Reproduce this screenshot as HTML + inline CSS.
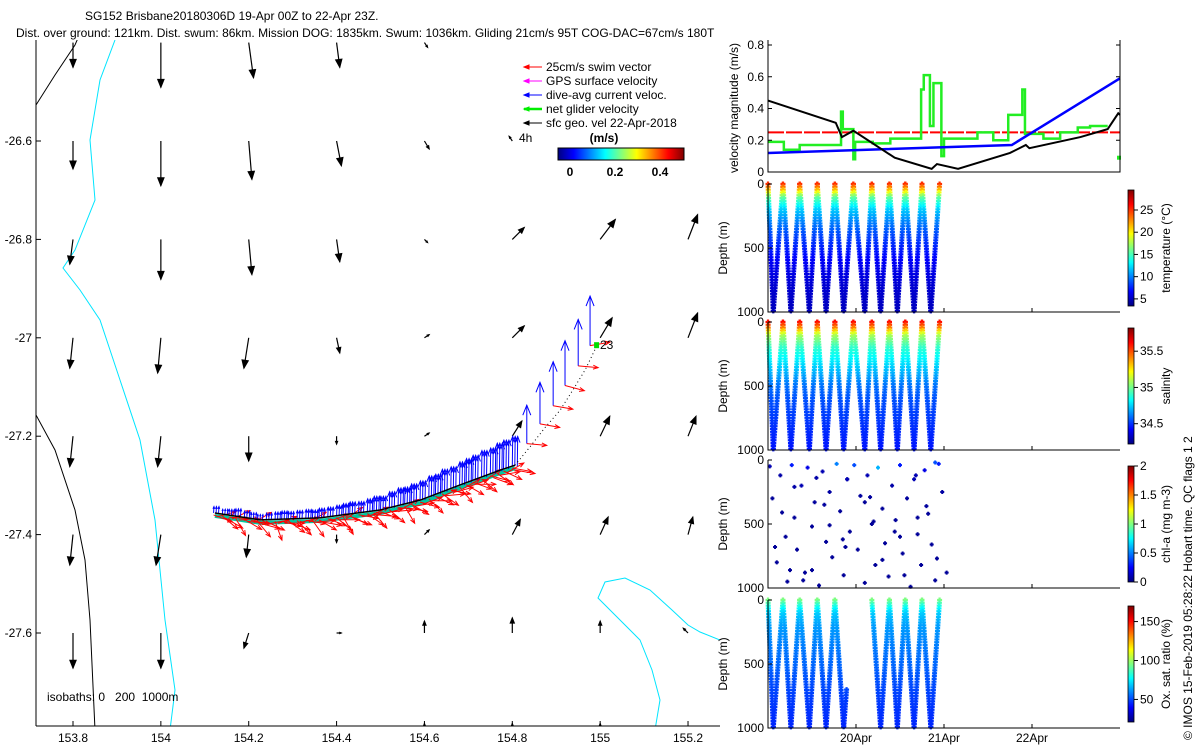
<!DOCTYPE html>
<html><head><meta charset="utf-8"><style>
body{margin:0;background:#fff;}
svg{display:block;font-family:"Liberation Sans",sans-serif;}
text{font-size:12px;fill:#000;}
</style></head><body>
<svg id="s" width="1200" height="750" viewBox="0 0 1200 750">
<defs>
<clipPath id="mapclip"><rect x="36" y="40" width="684" height="686"/></clipPath>
<clipPath id="pclip"><rect x="766" y="40" width="356" height="700"/></clipPath>
<linearGradient id="jetH" x1="0" x2="1" y1="0" y2="0">
<stop offset="0" stop-color="#000080"/><stop offset="0.125" stop-color="#0000ff"/><stop offset="0.375" stop-color="#00ffff"/><stop offset="0.625" stop-color="#ffff00"/><stop offset="0.875" stop-color="#ff0000"/><stop offset="1" stop-color="#800000"/></linearGradient>
<linearGradient id="jetV" x1="0" x2="0" y1="1" y2="0">
<stop offset="0" stop-color="#000080"/><stop offset="0.125" stop-color="#0000ff"/><stop offset="0.375" stop-color="#00ffff"/><stop offset="0.625" stop-color="#ffff00"/><stop offset="0.875" stop-color="#ff0000"/><stop offset="1" stop-color="#800000"/></linearGradient>
</defs>
<text x="85" y="20">SG152 Brisbane20180306D 19-Apr 00Z to 22-Apr 23Z.</text>
<text x="16" y="37">Dist. over ground: 121km. Dist. swum: 86km. Mission DOG: 1835km. Swum: 1036km. Gliding 21cm/s 95T COG-DAC=67cm/s 180T</text>
<g id="map"></g>
<g id="right"></g>
<text transform="translate(1192,740) rotate(-90)">© IMOS 15-Feb-2019 05:28:22 Hobart time. QC flags 1  2</text>
</svg>
<script>
// ---------- MAP DATA ----------
const geoLon=[153.8,154.0,154.2,154.4,154.6,154.8,155.0,155.2];
const geoLat=[-26.4,-26.6,-26.8,-27.0,-27.2,-27.4,-27.6,-27.8];
const geoU=[
[0,0,0.06,0.04,0.04,0,0,0],
[0,0,0.04,0.06,0.06,-0.04,0,0],
[-0.04,0,0.04,0.04,0.04,0.15,0.19,0.12],
[-0.04,-0.04,-0.06,0.04,0.06,0.15,0.15,0.12],
[-0.04,-0.04,0,0,0.06,0.12,0.12,0.10],
[-0.04,-0.06,-0.03,0,0.06,0.10,0.10,0.06],
[0,0,-0.06,0.06,0,0,0,-0.06],
[0,0,0,0,0,0,0,0]];
const geoV=[
[-0.31,-0.56,-0.44,-0.31,-0.06,0,0,0],
[-0.35,-0.56,-0.48,-0.31,-0.10,0.06,0,0],
[-0.31,-0.50,-0.44,-0.28,-0.04,0.15,0.25,0.31],
[-0.38,-0.44,-0.38,-0.19,0.04,0.15,0.25,0.31],
[-0.38,-0.38,-0.31,-0.10,0.04,0.19,0.25,0.25],
[-0.38,-0.38,-0.28,-0.10,0.06,0.19,0.22,0.22],
[-0.44,-0.44,-0.19,0,0.15,0.19,0.15,0.06],
[0,0,0,0,0.10,0.10,0.10,0]];
const trackLon=[154.123,154.226,154.362,154.499,154.590,154.681,154.772,154.806];
const trackLat=[-27.356,-27.370,-27.366,-27.350,-27.330,-27.299,-27.269,-27.259];
const dotLon=[154.806,154.840,154.874,154.909,154.938,154.966,154.993];
const dotLat=[-27.259,-27.222,-27.183,-27.147,-27.106,-27.065,-27.015];
const diveLon=[154.12,154.14,154.155,154.17,154.19,154.205,154.22,154.24,154.26,154.275,154.29,154.31,154.33,154.345,154.36,154.38,154.40,154.415,154.43,154.45,154.47,154.485,154.50,154.52,154.54,154.555,154.57,154.59,154.61,154.625,154.64,154.66,154.68,154.695,154.71,154.73,154.75,154.765,154.78,154.80];
const dacV=[0.08,0.06,0.07,0.09,0.08,0.07,0.06,0.08,0.09,0.10,0.09,0.10,0.11,0.10,0.12,0.12,0.13,0.14,0.15,0.14,0.16,0.18,0.17,0.20,0.22,0.21,0.23,0.24,0.26,0.25,0.28,0.27,0.29,0.30,0.31,0.33,0.32,0.35,0.36,0.37];
const swimDir=[110,130,95,150,120,100,140,115,160,105,125,135,100,145,120,110,130,150,115,100,125,140,110,130,95,150,120,105,135,115,125,100,140,120,110,130,105,125,115,100];
const dotDiveLon=[154.833,154.863,154.893,154.920,154.950,154.977];
const dotDiveLat=[-27.215,-27.175,-27.138,-27.097,-27.057,-27.016];
const dotDacV=[0.48,0.52,0.55,0.56,0.58,0.62];
const dotSwimDir=[95,100,100,105,95,80];
const xTickLon=[153.8,154,154.2,154.4,154.6,154.8,155,155.2];
const yTickLat=[-26.6,-26.8,-27,-27.2,-27.4,-27.6];

// ---------- TIME SERIES DATA ----------
const blackT=[0,0.77,0.84,0.97,1.44,1.86,1.92,2.16,2.75,2.93,2.97,3.55,3.86,3.98,4.0];
const blackV=[0.45,0.31,0.22,0.26,0.09,0.02,0.05,0.02,0.12,0.17,0.15,0.22,0.27,0.37,0.36];
const blueT=[0,2.77,4.0];
const blueV=[0.12,0.17,0.59];
const redV=0.25;
const greenT=[0,0.18,0.36,0.83,0.85,0.97,0.99,1.19,1.39,1.74,1.77,1.84,1.88,1.90,1.97,2.0,2.38,2.56,2.73,2.89,2.92,3.13,3.32,3.52,3.66,3.86];
const greenV=[0.19,0.14,0.17,0.38,0.27,0.08,0.19,0.18,0.21,0.52,0.61,0.29,0.56,0.56,0.10,0.21,0.25,0.20,0.36,0.52,0.24,0.21,0.25,0.28,0.29,0.29];
const diveTop=[0,0.17,0.36,0.56,0.76,0.97,1.18,1.38,1.56,1.75,1.95];
const diveBot=[0.06,0.26,0.47,0.66,0.86,1.10,1.28,1.47,1.66,1.85];
const profDepth=[0,50,100,200,300,400,500,600,800,1000];
const tempProf=[25,21,16,12,10,8.5,7.5,6.5,5.5,5];
const salProf=[35.6,35.4,35.1,34.9,34.8,34.7,34.6,34.55,34.5,34.45];
const oxProf=[95,80,70,63,60,57,55,52,48,45];
const chlT=[0.02,0.05,0.1,0.14,0.2,0.22,0.27,0.3,0.33,0.38,0.42,0.45,0.5,0.53,0.58,0.62,0.66,0.7,0.73,0.78,0.82,0.86,0.9,0.93,0.98,1.02,1.05,1.1,1.13,1.18,1.22,1.25,1.3,1.33,1.37,1.41,1.45,1.5,1.53,1.58,1.62,1.66,1.7,1.74,1.78,1.82,1.86,1.9,1.94,1.98,2.03,0.08,0.3,0.5,0.7,0.9,1.1,1.3,1.5,1.7,1.9,0.16,0.4,0.64,0.88,1.16,1.44,1.68,1.92,0.25,0.55,0.85,1.2,1.55,1.8];
const chlD=[50,300,800,120,600,950,40,450,700,200,880,60,520,330,980,90,640,250,760,30,400,900,150,560,40,700,280,960,120,500,820,60,380,650,910,200,470,40,730,300,990,150,580,820,80,420,660,940,30,250,880,680,210,860,510,150,330,780,600,450,20,410,940,350,680,290,560,120,770,860,140,620,480,900,360];
const chlV=[0.1,0.05,0.05,0.08,0.05,0.05,0.3,0.05,0.05,0.1,0.05,0.2,0.05,0.06,0.05,0.1,0.05,0.07,0.05,0.5,0.05,0.05,0.09,0.05,0.4,0.05,0.06,0.05,0.1,0.05,0.05,0.6,0.05,0.05,0.05,0.08,0.05,0.3,0.05,0.06,0.05,0.1,0.05,0.05,0.2,0.05,0.05,0.05,0.3,0.07,0.05,0.05,0.08,0.05,0.05,0.1,0.05,0.05,0.05,0.05,0.4,0.05,0.05,0.06,0.05,0.06,0.05,0.1,0.05,0.05,0.08,0.05,0.05,0.05,0.06];
const oxSkip=[4,5];

const NS="http://www.w3.org/2000/svg";
function mk(tag,attrs,parent){const e=document.createElementNS(NS,tag);for(const k in attrs)e.setAttribute(k,attrs[k]);parent.appendChild(e);return e;}
function jet(f){f=Math.max(0,Math.min(1,f));const c=v=>Math.round(255*Math.max(0,Math.min(1,1.5-Math.abs(v))));return `rgb(${c(4*f-3)},${c(4*f-2)},${c(4*f-1)})`;}
function interp(x,xs,ys){if(x<=xs[0])return ys[0];for(let i=1;i<xs.length;i++){if(x<=xs[i]){const f=(x-xs[i-1])/(xs[i]-xs[i-1]);return ys[i-1]+f*(ys[i]-ys[i-1]);}}return ys[ys.length-1];}

// ---------- MAP ----------
const map=document.getElementById('map');
const lx=lon=>73+(lon-153.8)*439.3;
const ly=lat=>141+(-26.6-lat)*492;
const PXMS=80;
function arrow(g,x,y,dx,dy,col,head,filled,w){
  const L=Math.hypot(dx,dy);
  const ln=mk('line',{x1:x,y1:y,x2:x+dx,y2:y+dy,stroke:col,'stroke-width':w||1},g);
  if(L<1)return ln;
  const ux=dx/L,uy=dy/L,hx=x+dx,hy=y+dy,h=Math.min(head,L*0.35);
  const p1=[hx-h*ux+h*0.4*uy,hy-h*uy-h*0.4*ux],p2=[hx-h*ux-h*0.4*uy,hy-h*uy+h*0.4*ux];
  if(filled)mk('polygon',{points:`${hx},${hy} ${p1} ${p2}`,fill:col,stroke:col},g);
  else mk('polyline',{points:`${p1} ${hx},${hy} ${p2}`,fill:'none',stroke:col},g);
  return ln;
}
const mg=mk('g',{'clip-path':'url(#mapclip)'},map);
const cy=mk('polyline',{points:'115,40 100,80 90,140 95,200 75,250 63,268 80,290 100,320 120,380 140,440 155,520 165,620 175,690 170,730',fill:'none',stroke:'#00e5ff','stroke-width':1},mg);

const cy2=mk('polyline',{points:'720,640 700,632 688,625 672,610 650,590 625,578 605,582 598,598 615,615 640,640 652,670 660,700 655,730',fill:'none',stroke:'#00e5ff','stroke-width':1},mg);

const bk=mk('polyline',{points:'36,105 55,75 75,45 78,38',fill:'none',stroke:'#000','stroke-width':1},mg);

const bk2=mk('polyline',{points:'36,415 55,450 75,510 85,560 90,620 95,730',fill:'none',stroke:'#000','stroke-width':1},mg);

for(let r=0;r<geoLat.length;r++)for(let c=0;c<geoLon.length;c++){
  const u=geoU[r][c],v=geoV[r][c];if(Math.hypot(u,v)<0.01)continue;
  const a=arrow(mg,lx(geoLon[c]),ly(geoLat[r]),u*PXMS,-v*PXMS,'#000',8,true,1.2);
  
}
const trackLatAt=lon=>interp(lon,trackLon,trackLat);
const tg=mk('polyline',{points:trackLon.map((l,i)=>`${lx(l)},${ly(trackLat[i])+3}`).join(' '),fill:'none',stroke:'#00c8a0','stroke-width':4},mg);

diveLon.forEach((l,i)=>{
  const x=lx(l),y=ly(trackLatAt(l));const a=swimDir[i]*Math.PI/180;
  const s=0.25*PXMS;
  const e=arrow(mg,x,y+2,Math.sin(a)*s,-Math.cos(a)*s,'#ff0000',5,false,1);
  
  const a2=(swimDir[(i+7)%swimDir.length]-40)*Math.PI/180;
  const e2=arrow(mg,x+3,y+4,Math.sin(a2)*s,-Math.cos(a2)*s,'#ff0000',5,false,1);
  
});
diveLon.forEach((l,i)=>{
  const x=lx(l),y=ly(trackLatAt(l));
  for(let k=0;k<3;k++){
  const e=arrow(mg,x+k*2.5,y,0.005*PXMS,-dacV[i]*PXMS,'#0000ff',6,false,1);
  }
});
const tb=mk('polyline',{points:trackLon.map((l,i)=>`${lx(l)},${ly(trackLat[i])}`).join(' '),fill:'none',stroke:'#000','stroke-width':1.5},mg);

const td=mk('polyline',{points:dotLon.map((l,i)=>`${lx(l)},${ly(dotLat[i])}`).join(' '),fill:'none',stroke:'#000','stroke-width':1,'stroke-dasharray':'1,3'},mg);

dotDiveLon.forEach((l,i)=>{
  const x=lx(l),y=ly(dotDiveLat[i]);
  const e=arrow(mg,x,y,0,-dotDacV[i]*PXMS,'#0000ff',10,false,1);
  
  const a=dotSwimDir[i]*Math.PI/180;
  const r=arrow(mg,x,y,Math.sin(a)*0.25*PXMS,-Math.cos(a)*0.25*PXMS,'#ff0000',5,false,1);
  
});
const gm=mk('rect',{x:lx(dotLon[6])-3,y:ly(dotLat[6])-3,width:5,height:6,fill:'#00dd00'},mg);

const t23=mk('text',{x:600,y:349},mg);t23.textContent='23';

mk('line',{x1:36,y1:40,x2:36,y2:726,stroke:'#000'},map);
mk('line',{x1:36,y1:726,x2:720,y2:726,stroke:'#000'},map);
xTickLon.forEach(l=>{const x=lx(l);mk('line',{x1:x,y1:726,x2:x,y2:721,stroke:'#000'},map);
  const t=mk('text',{x:x,y:742,'text-anchor':'middle'},map);t.textContent=String(l);
  });
yTickLat.forEach(l=>{const y=ly(l);mk('line',{x1:36,y1:y,x2:41,y2:y,stroke:'#000'},map);
  const t=mk('text',{x:32,y:y+4,'text-anchor':'end'},map);t.textContent=String(l);
  });
const iso=mk('text',{x:47,y:701},map);iso.textContent='isobaths: 0   200  1000m';iso.setAttribute('style','white-space:pre');

const leg=mk('g',{},map);
[['25cm/s swim vector','#ff0000'],['GPS surface velocity','#ff00ff'],['dive-avg current veloc.','#0000ff'],['net glider velocity','#00ee00'],['sfc geo. vel 22-Apr-2018','#000']].forEach((d,i)=>{
  const y=67+i*14;
  const e=arrow(leg,542,y,-18,0,d[1],5,true,i==3?2.5:1);
  
  const t=mk('text',{x:546,y:y+4},leg);t.textContent=d[0];
  
});
const h4=mk('text',{x:519,y:142},map);h4.textContent='4h';
const cbt=mk('text',{x:604,y:142,'font-weight':'bold','text-anchor':'middle'},map);cbt.textContent='(m/s)';

const cbr=mk('rect',{x:558,y:148,width:126,height:12,fill:'url(#jetH)',stroke:'#000'},map);

[[0,'0'],[0.2,'0.2'],[0.4,'0.4']].forEach(d=>{const x=570+d[0]*225;
  const t=mk('text',{x:x,y:176,'text-anchor':'middle','font-weight':'bold'},map);t.textContent=d[1];
  });

// ---------- RIGHT PANELS ----------
const R=document.getElementById('right');
const X0=768,X1=1120,tx=t=>X0+t*88;
function ylabel(x,yc,s,name){const t=mk('text',{transform:`translate(${x},${yc}) rotate(-90)`,'text-anchor':'middle'},R);t.textContent=s;}
const vy=v=>172-v*158.75;
const vp=mk('g',{'clip-path':'url(#pclip)'},R);
const rl=mk('line',{x1:X0,y1:vy(redV),x2:X1,y2:vy(redV),stroke:'#ff0000','stroke-width':2,'stroke-dasharray':'16,2'},vp);

let gp='';greenT.forEach((t,i)=>{const x=tx(t),y=vy(greenV[i]);const xn=i<greenT.length-1?tx(greenT[i+1]):tx(3.86);
 gp+=(i==0?'M':'L')+x+','+y+' L'+xn+','+y+' ';});
const gl=mk('path',{d:gp,fill:'none',stroke:'#22ee22','stroke-width':2.5},vp);

const gdot=mk('rect',{x:1117,y:vy(0.09)-2,width:4,height:4,fill:'#22ee22'},vp);

const bl=mk('polyline',{points:blueT.map((t,i)=>`${tx(t)},${vy(blueV[i])}`).join(' '),fill:'none',stroke:'#0000ff','stroke-width':2.5},vp);

const kl=mk('polyline',{points:blackT.map((t,i)=>`${tx(t)},${vy(blackV[i])}`).join(' '),fill:'none',stroke:'#000','stroke-width':2},vp);

mk('polyline',{points:`${X0},40 ${X0},172 ${X1},172 ${X1},40`,fill:'none',stroke:'#000'},R);
[0,0.2,0.4,0.6,0.8].forEach(v=>{const y=vy(v);mk('line',{x1:X0,y1:y,x2:X0+4,y2:y,stroke:'#000'},R);mk('line',{x1:X1,y1:y,x2:X1-4,y2:y,stroke:'#000'},R);
 const t=mk('text',{x:X0-4,y:y+4,'text-anchor':'end'},R);t.textContent=String(v);});
ylabel(738,108,'velocity magnitude (m/s)','velocity-y-axis-title');

const panels=[
 {top:184,name:'temperature',prof:tempProf,vmin:3.4,vmax:29.5,ticks:[5,10,15,20,25],lab:'temperature (°C)'},
 {top:322,name:'salinity',prof:salProf,vmin:34.22,vmax:35.82,ticks:[34.5,35,35.5],lab:'salinity'},
 {top:460,name:'chlorophyll',prof:null,vmin:0,vmax:2,ticks:[0,0.5,1,1.5,2],lab:'chl-a (mg m-3)'},
 {top:600,name:'oxygen',prof:oxProf,vmin:21,vmax:170,ticks:[50,100,150],lab:'Ox. sat. ratio (%)'}];
panels.forEach((P,pi)=>{
 const H=128,dy=d=>P.top+d/1000*H;
 const g=mk('g',{},R);
 const norm=v=>(v-P.vmin)/(P.vmax-P.vmin);
 if(P.prof){
  for(let k=0;k<diveBot.length;k++){
   if(pi==3&&oxSkip.indexOf(k)>=0&&k==5)continue;
   const legs=[[diveTop[k],diveBot[k]],[diveTop[k+1],diveBot[k]]];
   legs.forEach((lg,li)=>{
    let dmin=0;if(pi==3&&k==4&&li==1)dmin=700;
    for(let d=dmin;d<=1000;d+=22){
     const t=lg[0]+(lg[1]-lg[0])*d/1000;
     const c=jet(norm(interp(d,profDepth,P.prof)));
     const m=mk('path',{d:`M${tx(t)-2.5},${dy(d)} h5 M${tx(t)},${dy(d)-2.5} v5`,stroke:c,'stroke-width':2.2},g);
     
    }});
  }
 } else {
  chlT.forEach((t,i)=>{const c=jet(norm(chlV[i]));
   const m=mk('path',{d:`M${tx(t)-2},${dy(chlD[i])} h4 M${tx(t)},${dy(chlD[i])-2} v4`,stroke:c,'stroke-width':2},g);
   });
 }
 mk('polyline',{points:`${X0},${P.top} ${X0},${P.top+H} ${X1},${P.top+H}`,fill:'none',stroke:'#000'},R);
 [[0,'0'],[500,'500'],[1000,'1000']].forEach(d=>{const y=dy(d[0]);mk('line',{x1:X0,y1:y,x2:X0+4,y2:y,stroke:'#000'},R);
  const t=mk('text',{x:X0-4,y:y+4,'text-anchor':'end'},R);t.textContent=d[1];});
 ylabel(727,P.top+64,'Depth (m)','depth-axis-title');
 [1,2,3].forEach(d=>mk('line',{x1:tx(d),y1:P.top+H,x2:tx(d),y2:P.top+H-4,stroke:'#000'},R));
 const cbT=P.top+6,cbH=116;
 const cb=mk('rect',{x:1128,y:cbT,width:6,height:cbH,fill:'url(#jetV)',stroke:'#000','stroke-width':0.8},R);
 
 P.ticks.forEach(v=>{const y=cbT+cbH*(1-norm(v));mk('line',{x1:1134,y1:y,x2:1138,y2:y,stroke:'#000'},R);
  const t=mk('text',{x:1140,y:y+4},R);t.textContent=String(v);});
 ylabel(1170,P.top+64,P.lab,P.name+'-colorbar-title');
});
[[1,'20Apr'],[2,'21Apr'],[3,'22Apr']].forEach(d=>{const t=mk('text',{x:tx(d[0]),y:742,'text-anchor':'middle'},R);t.textContent=d[1];
 });
</script>
</body></html>
